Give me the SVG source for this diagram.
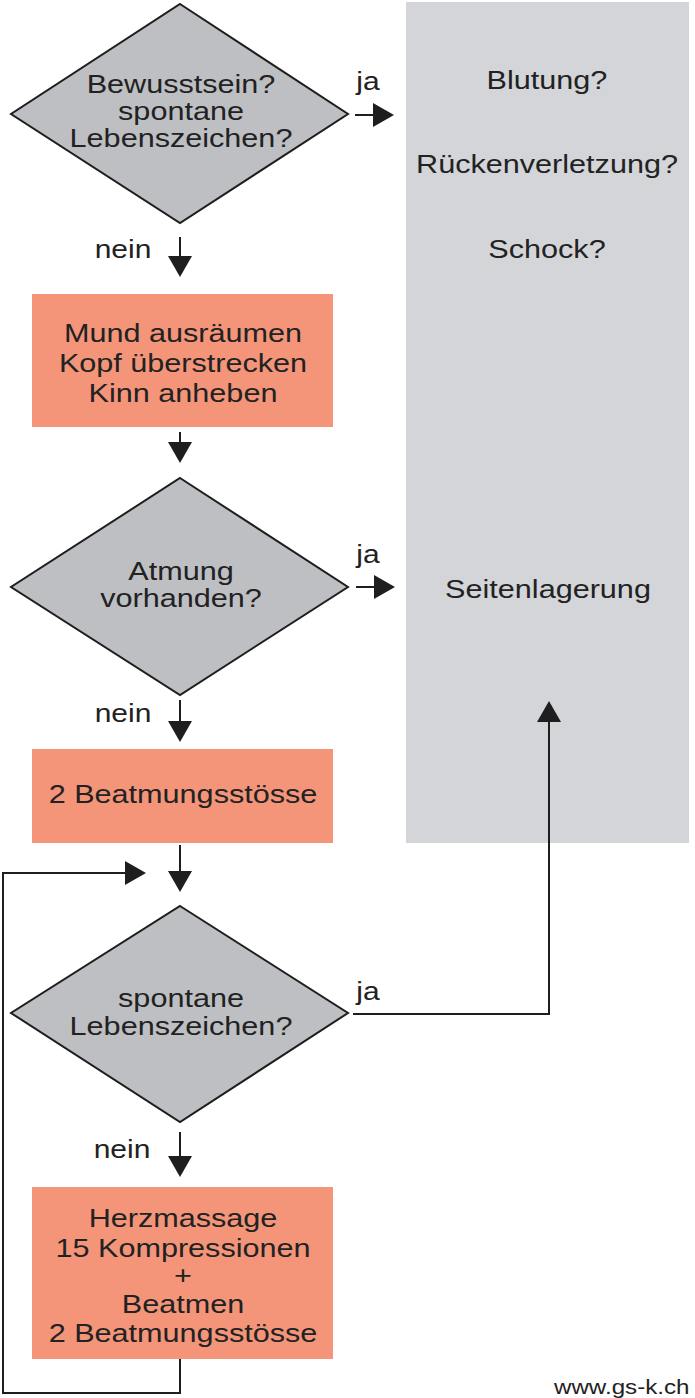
<svg xmlns="http://www.w3.org/2000/svg" width="695" height="1398" viewBox="0 0 695 1398">
<style>
.t{font-family:"Liberation Sans",Arial,sans-serif;font-size:25.5px;fill:#222;text-anchor:middle}
.l{font-family:"Liberation Sans",Arial,sans-serif;font-size:25px;fill:#222;text-anchor:middle}
.dia{fill:#bebfc3;stroke:#1e1e1e;stroke-width:2;stroke-linejoin:miter}
.box{fill:#f4957a}
.panel{fill:#d3d5d9}
.con{fill:none;stroke:#1e1e1e;stroke-width:2}
</style>
<defs>
<marker id="ah" markerUnits="userSpaceOnUse" markerWidth="24" markerHeight="26" refX="10" refY="12" orient="auto">
<path d="M0,0 L21,12 L0,24 Z" fill="#1e1e1e"/>
</marker>
</defs>
<rect width="695" height="1398" fill="#fff"/>
<g id="panel">
<rect class="panel" x="406" y="2" width="283" height="841"/>
<text class="t" transform="translate(547,89) scale(1.2,1)">Blutung?</text>
<text class="t" transform="translate(547,173) scale(1.2,1)">Rückenverletzung?</text>
<text class="t" transform="translate(547,258) scale(1.2,1)">Schock?</text>
<text class="t" transform="translate(548,598) scale(1.2,1)">Seitenlagerung</text>
</g>
<g id="d1">
<polygon class="dia" points="180,4 348,114 180,223 11,114"/>
<text class="t" transform="translate(181,93) scale(1.2,1)">Bewusstsein?</text>
<text class="t" transform="translate(181,120) scale(1.2,1)">spontane</text>
<text class="t" transform="translate(181,147) scale(1.2,1)">Lebenszeichen?</text>
</g>
<g id="b1">
<rect class="box" x="32" y="294" width="301" height="133"/>
<text class="t" transform="translate(183,342) scale(1.2,1)">Mund ausräumen</text>
<text class="t" transform="translate(183,372) scale(1.2,1)">Kopf überstrecken</text>
<text class="t" transform="translate(183,402) scale(1.2,1)">Kinn anheben</text>
</g>
<g id="d2">
<polygon class="dia" points="180,478 348,587 180,695 11,587"/>
<text class="t" transform="translate(181,580) scale(1.2,1)">Atmung</text>
<text class="t" transform="translate(181,607) scale(1.2,1)">vorhanden?</text>
</g>
<g id="b2">
<rect class="box" x="32" y="749" width="301" height="94"/>
<text class="t" transform="translate(183,803) scale(1.2,1)">2 Beatmungsstösse</text>
</g>
<g id="d3">
<polygon class="dia" points="180,906 348,1013 180,1122 11,1013"/>
<text class="t" transform="translate(181,1007) scale(1.2,1)">spontane</text>
<text class="t" transform="translate(181,1035) scale(1.2,1)">Lebenszeichen?</text>
</g>
<g id="b3">
<rect class="box" x="32" y="1187" width="301" height="172"/>
<text class="t" transform="translate(183,1227) scale(1.2,1)">Herzmassage</text>
<text class="t" transform="translate(183,1257) scale(1.2,1)">15 Kompressionen</text>
<text class="t" transform="translate(183,1284) scale(1.2,1)">+</text>
<text class="t" transform="translate(183,1313) scale(1.2,1)">Beatmen</text>
<text class="t" transform="translate(183,1342) scale(1.2,1)">2 Beatmungsstösse</text>
</g>
<g id="connectors">
<line class="con" x1="355" y1="115" x2="383" y2="115" marker-end="url(#ah)"/>
<line class="con" x1="180" y1="237" x2="180" y2="266" marker-end="url(#ah)"/>
<line class="con" x1="180" y1="432" x2="180" y2="452" marker-end="url(#ah)"/>
<line class="con" x1="356" y1="587" x2="384" y2="587" marker-end="url(#ah)"/>
<line class="con" x1="180" y1="700" x2="180" y2="731" marker-end="url(#ah)"/>
<line class="con" x1="180" y1="845" x2="180" y2="881" marker-end="url(#ah)"/>
<line class="con" x1="180" y1="1132" x2="180" y2="1166" marker-end="url(#ah)"/>
<path class="con" d="M353,1014 H549 V712" marker-end="url(#ah)"/>
<path class="con" d="M180,1359 V1393 H3 V873 H135" marker-end="url(#ah)"/>
<text class="l" transform="translate(368,90) scale(1.2,1)">ja</text>
<text class="l" transform="translate(123,258) scale(1.2,1)">nein</text>
<text class="l" transform="translate(368,563) scale(1.2,1)">ja</text>
<text class="l" transform="translate(123,722) scale(1.2,1)">nein</text>
<text class="l" transform="translate(368,1000) scale(1.2,1)">ja</text>
<text class="l" transform="translate(122,1158) scale(1.2,1)">nein</text>
</g>
<text x="0" y="0" transform="translate(554,1394) scale(1.15,1)" style="font-family:'Liberation Sans',Arial,sans-serif;font-size:21px;fill:#222">www.gs-k.ch</text>
</svg>
